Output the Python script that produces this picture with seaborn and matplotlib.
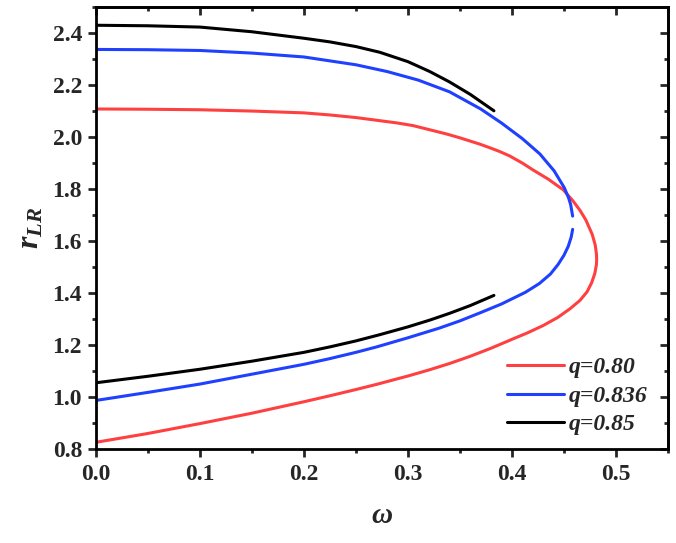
import numpy as np
import pandas as pd
import matplotlib
matplotlib.use("Agg")
import matplotlib.pyplot as plt
import seaborn as sns
from matplotlib.ticker import MultipleLocator, FormatStrFormatter

# ---- data ----
labels = ["q=0.80", "q=0.836", "q=0.85"]
colors = ["#FF4040", "#2040FF", "#000000"]

# q = 0.80 : one closed branch (upper then lower)
red_w = [0.0, 0.05, 0.1, 0.15, 0.2, 0.225, 0.25, 0.273, 0.29, 0.305, 0.32, 0.337,
         0.35, 0.369, 0.38, 0.3885, 0.398, 0.41, 0.4205, 0.435, 0.4494, 0.4586,
         0.4655, 0.4711, 0.4772, 0.4801, 0.4813, 0.4815,
         0.4813, 0.4797, 0.4767, 0.4723, 0.4655, 0.456, 0.444, 0.43, 0.415, 0.40,
         0.38, 0.36, 0.34, 0.32, 0.30, 0.27, 0.25, 0.225, 0.2, 0.15, 0.1, 0.05, 0.0]
red_r = [2.108, 2.107, 2.105, 2.100, 2.093, 2.085, 2.075, 2.063, 2.054, 2.044, 2.029,
         2.012, 1.997, 1.973, 1.957, 1.944, 1.927, 1.900, 1.873, 1.838, 1.797, 1.755,
         1.718, 1.681, 1.626, 1.585, 1.550, 1.530,
         1.510, 1.475, 1.440, 1.405, 1.372, 1.340, 1.306, 1.275, 1.247, 1.222,
         1.188, 1.157, 1.129, 1.104, 1.081, 1.049, 1.029, 1.005, 0.982, 0.938,
         0.898, 0.860, 0.826]

# q = 0.836 : upper and lower branches with a small gap
blue_up_w = [0.0, 0.05, 0.1, 0.15, 0.2, 0.25, 0.28, 0.31, 0.34, 0.37, 0.39, 0.41,
             0.4269, 0.4406, 0.4504, 0.4546, 0.4565, 0.4584]
blue_up_r = [2.337, 2.336, 2.333, 2.323, 2.308, 2.278, 2.252, 2.219, 2.174, 2.108,
             2.054, 1.994, 1.935, 1.870, 1.805, 1.765, 1.740, 1.696]
blue_lo_w = [0.4584, 0.4570, 0.4542, 0.4500, 0.4444, 0.437, 0.4265, 0.413, 0.39,
             0.37, 0.35, 0.33, 0.30, 0.27, 0.25, 0.225, 0.2, 0.15, 0.1, 0.05, 0.0]
blue_lo_r = [1.645, 1.615, 1.580, 1.545, 1.510, 1.473, 1.437, 1.403, 1.358,
             1.325, 1.293, 1.265, 1.228, 1.193, 1.172, 1.148, 1.126, 1.088, 1.050,
             1.018, 0.987]

# q = 0.85 : upper and lower branches ending at omega ~ 0.383
black_up_w = [0.0, 0.05, 0.1, 0.15, 0.2, 0.225, 0.25, 0.273, 0.3, 0.321, 0.34,
              0.36, 0.3827]
black_up_r = [2.430, 2.428, 2.423, 2.405, 2.380, 2.366, 2.348, 2.326, 2.290, 2.252,
              2.212, 2.164, 2.101]
black_lo_w = [0.0, 0.05, 0.1, 0.15, 0.2, 0.225, 0.25, 0.273, 0.3, 0.321, 0.34,
              0.36, 0.3827]
black_lo_r = [1.055, 1.080, 1.107, 1.138, 1.172, 1.193, 1.216, 1.240, 1.270, 1.296,
              1.322, 1.352, 1.391]

pieces = [
    (labels[0], "a", red_w, red_r),
    (labels[1], "up", blue_up_w, blue_up_r),
    (labels[1], "lo", blue_lo_w, blue_lo_r),
    (labels[2], "up", black_up_w, black_up_r),
    (labels[2], "lo", black_lo_w, black_lo_r),
]
frames = []
for q, piece, w, r in pieces:
    frames.append(pd.DataFrame({"omega": w, "r": r, "q": q, "piece": q + piece}))
df = pd.concat(frames, ignore_index=True)

# ---- style ----
sns.set_style("ticks")
plt.rcParams["font.family"] = ["Liberation Serif", "DejaVu Serif"]
plt.rcParams["font.weight"] = "bold"
plt.rcParams["mathtext.fontset"] = "custom"
plt.rcParams["mathtext.it"] = "Liberation Serif:italic:bold"
plt.rcParams["mathtext.rm"] = "Liberation Serif:bold"
plt.rcParams["mathtext.bf"] = "Liberation Serif:bold"

fig = plt.figure(figsize=(6.76, 5.43), dpi=100)
ax = fig.add_axes([0.142, 0.173, 0.846, 0.814])

sns.lineplot(data=df, x="omega", y="r", hue="q", units="piece", estimator=None,
             sort=False, palette=dict(zip(labels, colors)), hue_order=labels,
             linewidth=2.2, ax=ax, legend=True)

ax.set_xlim(0, 0.55)
ax.set_ylim(0.8, 2.5)
ax.xaxis.set_major_locator(MultipleLocator(0.1))
ax.xaxis.set_minor_locator(MultipleLocator(0.05))
ax.yaxis.set_major_locator(MultipleLocator(0.2))
ax.yaxis.set_minor_locator(MultipleLocator(0.1))
ax.xaxis.set_major_formatter(FormatStrFormatter("%.1f"))
ax.yaxis.set_major_formatter(FormatStrFormatter("%.1f"))

ax.tick_params(which="major", direction="out", length=6, width=2, labelsize=17, pad=4)
ax.tick_params(which="minor", direction="out", length=3, width=2)
ax.tick_params(axis="x", which="major", pad=5)
for s in ax.spines.values():
    s.set_visible(True)
    s.set_linewidth(2)
    s.set_color("black")

secx = ax.secondary_xaxis("top")
secx.xaxis.set_major_locator(MultipleLocator(0.1))
secx.xaxis.set_minor_locator(MultipleLocator(0.05))
secx.tick_params(which="major", direction="in", length=6, width=2, labeltop=False)
secx.tick_params(which="minor", direction="in", length=3, width=2)
secx.spines["top"].set_linewidth(2)

secy = ax.secondary_yaxis("right")
secy.yaxis.set_major_locator(MultipleLocator(0.2))
secy.yaxis.set_minor_locator(MultipleLocator(0.1))
secy.tick_params(which="major", direction="in", length=6, width=2, labelright=False)
secy.tick_params(which="minor", direction="in", length=3, width=2)
secy.spines["right"].set_linewidth(2)

ax.set_xlabel(r"$\omega$", fontsize=21, labelpad=13)
ax.set_ylabel(r"$r_{LR}$", fontsize=23, labelpad=5)

handles, lbls = ax.get_legend_handles_labels()
leg = ax.legend(handles, lbls, loc="center left", bbox_to_anchor=(0.7185, 0.12),
                frameon=False, borderpad=0, borderaxespad=0, handlelength=2.4,
                handletextpad=0.2, labelspacing=0.3,
                prop={"family": "Liberation Serif", "style": "italic",
                      "weight": "bold", "size": 17})
for h in leg.get_lines():
    h.set_linewidth(2.2)

fig.savefig("out.png", dpi=100)
